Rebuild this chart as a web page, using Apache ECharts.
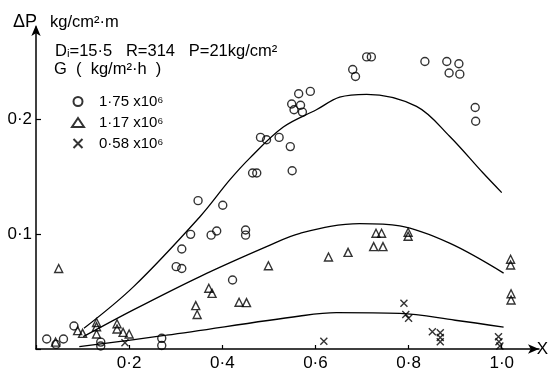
<!DOCTYPE html>
<html><head><meta charset="utf-8">
<script src="https://cdn.jsdelivr.net/npm/echarts@6/dist/echarts.min.js"></script>
<style>html,body{margin:0;padding:0;background:#fff}#c{width:549px;height:372px}</style>
</head><body><div id="c"></div>
<script>
// ---- data ----
const circlePts = [[0.023,0.0087],[0.043,0.004],[0.059,0.0087],[0.0815,0.020],[0.139,0.006],[0.139,0.0026],[0.27,0.0093],[0.27,0.003],[0.301,0.0716],[0.313,0.070],[0.313,0.087],[0.332,0.0997],[0.348,0.129],[0.376,0.099],[0.388,0.1026],[0.401,0.125],[0.422,0.060],[0.450,0.1035],[0.450,0.099],[0.465,0.153],[0.474,0.153],[0.482,0.184],[0.495,0.182],[0.522,0.184],[0.546,0.176],[0.550,0.155],[0.549,0.213],[0.554,0.208],[0.564,0.222],[0.568,0.212],[0.572,0.206],[0.589,0.224],[0.680,0.243],[0.686,0.237],[0.710,0.254],[0.720,0.254],[0.835,0.250],[0.882,0.250],[0.887,0.240],[0.908,0.248],[0.910,0.239],[0.943,0.210],[0.944,0.198]];
const trianglePts = [[0.042,0.006],[0.0487,0.070],[0.0894,0.016],[0.10,0.0136],[0.130,0.023],[0.130,0.0194],[0.130,0.013],[0.174,0.022],[0.174,0.0174],[0.187,0.0145],[0.20,0.013],[0.343,0.0377],[0.346,0.030],[0.371,0.0528],[0.378,0.0484],[0.436,0.0406],[0.452,0.0403],[0.499,0.0724],[0.628,0.080],[0.670,0.084],[0.725,0.089],[0.730,0.1006],[0.742,0.1006],[0.745,0.089],[0.799,0.1015],[0.799,0.098],[1.019,0.078],[1.019,0.073],[1.02,0.048],[1.02,0.0426]];
const crossPts = [[0.191,0.0055],[0.618,0.0067],[0.79,0.0397],[0.794,0.030],[0.80,0.0267],[0.851,0.015],[0.868,0.0142],[0.868,0.010],[0.868,0.0063],[0.993,0.0107],[0.994,0.0063],[0.996,0.0026]];
const circleCurve = [[0.103,0.018],[0.209,0.054],[0.352,0.115],[0.416,0.147],[0.459,0.166],[0.531,0.193],[0.602,0.208],[0.652,0.219],[0.710,0.2215],[0.817,0.211],[0.888,0.185],[0.96,0.153],[1.0,0.136]];
const triangleCurve = [[0.1015,0.0107],[0.209,0.034],[0.352,0.063],[0.495,0.089],[0.567,0.1006],[0.695,0.109],[0.781,0.107],[0.888,0.092],[1.004,0.066]];
const crossCurve = [[0.093,0.002],[0.28,0.012],[0.567,0.0287],[0.645,0.0316],[0.781,0.031],[0.9,0.025],[1.004,0.019]];
const seriesNames = ['1·75 x10⁶','1·17 x10⁶','0·58 x10⁶'];
const xTicks = [0.2,0.4,0.6,0.8,1.0];
const yTicks = [0.1,0.2];

const FONT = '"Liberation Sans","DejaVu Sans",Arial,sans-serif';
const fmt = v => v.toFixed(1).replace('.', '·');
const isTick = (arr, v) => arr.some(t => Math.abs(t - v) < 1e-6);
const crossPath = 'path://M0,0L10,10M10,0L0,10';
const markerStyle = {color:'transparent', borderColor:'#000', borderWidth:1.4};
const lineCfg = (data) => ({type:'line', data, smooth:0.35, symbol:'none', silent:true,
  lineStyle:{color:'#000', width:1.3}, z:1});

const chart = echarts.init(document.getElementById('c'), null, {renderer:'canvas'});
chart.setOption({
  animation:false,
  backgroundColor:'#fff',
  grid:{left:36, right:10, top:27, bottom:23},
  xAxis:{type:'value', min:0, max:1.08, interval:0.2,
    axisLine:{lineStyle:{color:'#000', width:1.5}, symbol:['none','arrow'], symbolSize:[7,11], symbolOffset:[0,0]},
    axisTick:{inside:true, length:4, lineStyle:{color:'#000', width:1.2}, interval:0},
    axisLabel:{color:'#000', fontSize:17, fontFamily:FONT, margin:6, showMaxLabel:false,
      formatter:v => isTick(xTicks, v) ? fmt(v) : ''},
    splitLine:{show:false}},
  yAxis:{type:'value', min:0, max:0.28, interval:0.1,
    axisLine:{show:true, lineStyle:{color:'#000', width:1.5}, symbol:['none','arrow'], symbolSize:[7,11], symbolOffset:[0,2]},
    axisTick:{show:true, inside:true, length:5, lineStyle:{color:'#000', width:1.2}},
    axisLabel:{color:'#000', fontSize:17, fontFamily:FONT, margin:4, showMaxLabel:false,
      formatter:v => isTick(yTicks, v) ? fmt(v) : ''},
    splitLine:{show:false}},
  legend:{data:seriesNames, orient:'vertical', left:66, top:89, itemWidth:12, itemHeight:9, itemGap:6,
    textStyle:{color:'#000', fontSize:15, fontFamily:FONT, lineHeight:14, padding:[0,0,0,10]},
    selectedMode:false},
  series:[
    lineCfg(circleCurve), lineCfg(triangleCurve), lineCfg(crossCurve),
    {name:seriesNames[0], type:'scatter', data:circlePts, symbol:'circle', symbolSize:8, itemStyle:markerStyle, z:3},
    {name:seriesNames[1], type:'scatter', data:trianglePts, symbol:'triangle', symbolSize:8, itemStyle:markerStyle, z:3},
    {name:seriesNames[2], type:'scatter', data:crossPts, symbol:crossPath, symbolSize:7, itemStyle:markerStyle, z:3}
  ],
  graphic:[
    {type:'text', left:13, top:13, style:{text:'ΔP', font:'18px '+FONT, fill:'#000'}},
    {type:'text', left:50, top:14, style:{text:'kg/cm²·m', font:'16.5px '+FONT, fill:'#000'}},
    {type:'text', left:55, top:43, style:{text:'Dᵢ=15·5   R=314   P=21kg/cm²', font:'16.5px '+FONT, fill:'#000'}},
    {type:'text', left:54, top:61, style:{text:'G  (  kg/m²·h  )', font:'16.5px '+FONT, fill:'#000'}},
    {type:'text', right:1, top:341, style:{text:'X', font:'17px '+FONT, fill:'#000'}}
  ]
});
</script></body></html>
